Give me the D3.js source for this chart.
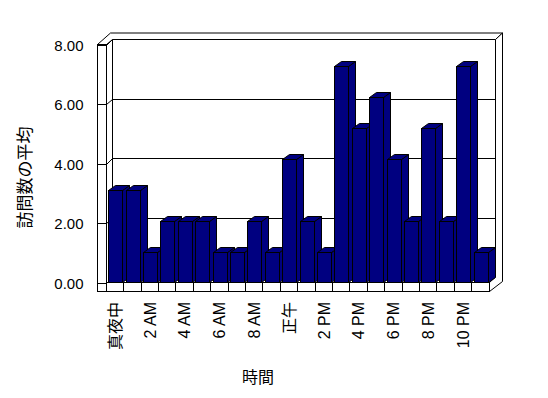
<!DOCTYPE html>
<html>
<head>
<meta charset="utf-8">
<script src="https://cdn.jsdelivr.net/npm/d3@7"></script>
<style>
  body { margin: 0; background: #fff; }
  text { font-family: "Liberation Sans", "Noto Sans CJK JP", sans-serif; fill: #000; }
</style>
</head>
<body>
<div id="chart"></div>
<script>
// hours (10 AM and 11 AM have no data)
const hours = ["真夜中", "1 AM", "2 AM", "3 AM", "4 AM", "5 AM", "6 AM", "7 AM", "8 AM", "9 AM",
  "正午", "1 PM", "2 PM", "3 PM", "4 PM", "5 PM", "6 PM", "7 PM", "8 PM", "9 PM", "10 PM", "11 PM"];
const visits = [3, 3, 1, 2, 2, 2, 1, 1, 2, 1, 4, 2, 1, 7, 5, 6, 4, 2, 5, 2, 7, 1];
const yTicks = [0, 2, 4, 6, 8];
const yTitle = "訪問数の平均";
const xTitle = "時間";

const width = 548, height = 398;
const svg = d3.select("#chart").append("svg").attr("width", width).attr("height", height);

// box geometry
const xa = 97.5, xb = 106.5, xc = 489.5;   // left wall outer, inner, floor right
const yTop = 44.5, yFloor = 282.5, yBase = 291.5;
const dx = 6, dy = -5.5;                    // depth to back wall
const tx = 7, ty = -6.5;                    // back wall thickness

const yAxis = d3.scaleLinear().domain([0, 8]).range([yFloor, yTop]);
const yBar = d3.scaleLinear().domain([0, 8]).range([yFloor, 34.5]);
const x = d3.scaleBand().domain(hours).range([xb, xc]).paddingInner(0.19).paddingOuter(0.1);
const bw = Math.round(x.bandwidth());
const bx = d => Math.round(x(d)) + 0.5;
const bdx = 7, bdy = -5;                    // bar depth

const g = svg.append("g").attr("fill", "none").attr("stroke", "#000").attr("stroke-width", 1);
const line = d3.line();

// back wall (front face + top + right side)
const bx0 = xb + dx, bx1 = xc + dx, by0 = Math.round(yTop + dy) + 0.5, by1 = yFloor + dy;
g.append("path").attr("fill", "#fff").attr("d",
  line([[bx0, by0], [bx1, by0], [bx1, by1], [bx0, by1]]) + "Z");
g.append("path").attr("fill", "#fff").attr("d",
  line([[xa + dx + tx, by0 + ty], [bx1 + tx, by0 + ty], [bx1, by0], [bx0, by0], [xb, yTop], [xa, yTop]]) + "Z");
g.append("path").attr("fill", "#fff").attr("d",
  line([[bx1, by0], [bx1 + tx, by0 + ty], [bx1 + tx, yBase + dy + ty + 2], [xc, yBase], [xc, yFloor], [bx1, by1]]) + "Z");

// gridlines on back wall
g.selectAll(".grid").data(yTicks.filter(d => d > 0 && d < 8)).join("line")
  .attr("shape-rendering", "crispEdges")
  .attr("x1", bx0).attr("x2", bx1)
  .attr("y1", d => Math.round(yAxis(d) + dy) + 0.5).attr("y2", d => Math.round(yAxis(d) + dy) + 0.5);

// left wall front face + ticks
g.append("rect").attr("fill", "#fff").attr("shape-rendering", "crispEdges")
  .attr("x", xa).attr("y", yTop).attr("width", xb - xa).attr("height", yBase - yTop);
g.selectAll(".tick").data(yTicks).join("path")
  .attr("d", d => {
    const y = Math.round(yAxis(d)) + 0.5;
    return line([[xa, y], [xb, y], [xb + dx, Math.round(yAxis(d) + dy) + 0.5]]);
  });

// floor front face with category ticks
g.append("rect").attr("fill", "#fff").attr("shape-rendering", "crispEdges")
  .attr("x", xb).attr("y", yFloor).attr("width", xc - xb).attr("height", yBase - yFloor);
g.selectAll(".ftick").data(hours.slice(0, -1)).join("line")
  .attr("shape-rendering", "crispEdges")
  .attr("x1", d => bx(d) + bw + 1).attr("x2", d => bx(d) + bw + 1)
  .attr("y1", yFloor).attr("y2", yBase);

// bars
const bars = g.selectAll(".bar").data(hours).join("g").attr("fill", "#000080");
const barTop = i => Math.round(yBar(visits[i])) + 0.5;
bars.append("path").attr("d", (d, i) => {
  const x0 = bx(d) + bw, y0 = barTop(i);
  return line([[x0, yFloor], [x0, y0], [x0 + bdx, y0 + bdy], [x0 + bdx, yFloor + bdy]]) + "Z";
});
bars.append("path").attr("d", (d, i) => {
  const x0 = bx(d), y0 = barTop(i);
  return line([[x0, y0], [x0 + bdx, y0 + bdy], [x0 + bw + bdx, y0 + bdy], [x0 + bw, y0]]) + "Z";
});
bars.append("rect").attr("shape-rendering", "crispEdges")
  .attr("x", d => bx(d)).attr("width", bw)
  .attr("y", (d, i) => barTop(i)).attr("height", (d, i) => yFloor - barTop(i));

// y tick labels
svg.selectAll(".ylab").data(yTicks).join("text")
  .attr("x", 83.5).attr("y", d => yAxis(d) + 1).attr("dy", "0.35em")
  .attr("text-anchor", "end").style("font-size", "15px")
  .text(d3.format(".2f"));

// x labels (every other hour)
svg.selectAll(".xlab").data(hours.filter((d, i) => i % 2 === 0)).join("text")
  .attr("transform", d => `translate(${x(d) + bw / 2},302) rotate(-90)`)
  .attr("dy", "0.35em").attr("text-anchor", "end").style("font-size", "16px")
  .text(d => d);

// titles
svg.append("text").attr("transform", "translate(25.5,177.5) rotate(-90)")
  .attr("text-anchor", "middle").attr("dy", "0.35em").style("font-size", "17px").text(yTitle);
svg.append("text").attr("x", 258).attr("y", 377)
  .attr("text-anchor", "middle").attr("dy", "0.35em").style("font-size", "16px").text(xTitle);
</script>
</body>
</html>
